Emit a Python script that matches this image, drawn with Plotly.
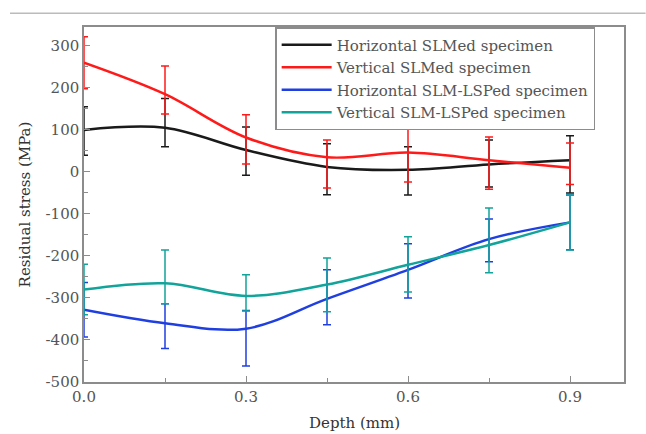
import plotly.graph_objects as go

depth = [0.0, 0.15, 0.3, 0.45, 0.6, 0.75, 0.9]

h_slm = [100, 105, 52, 12, 5, 18, 28]
h_slm_up = [55, 70, 55, 55, 55, 58, 58]
h_slm_dn = [60, 45, 60, 66, 60, 54, 78]

v_slm = [260, 185, 82, 35, 46, 28, 10]
v_slm_up = [62, 67, 54, 41, 69, 55, 59]
v_slm_dn = [62, 47, 63, 73, 70, 69, 40]

h_lsp = [-328, -360, -373, -302, -233, -160, -120]
h_lsp_up = [65, 46, 43, 69, 62, 48, 65]
h_lsp_dn = [65, 60, 89, 62, 67, 54, 65]

v_lsp = [-280, -265, -295, -268, -221, -174, -120]
v_lsp_up = [60, 79, 50, 63, 67, 88, 65]
v_lsp_dn = [60, 49, 36, 65, 65, 66, 66]

y_ticks = [-500, -400, -300, -200, -100, 0, 100, 200, 300]
y_ticklabels = ["-500", "-400", "-300", "-200", "-100", "0", "100", "200", "300"]
x_ticks = [0.0, 0.3, 0.6, 0.9]
x_ticklabels = ["0.0", "0.3", "0.6", "0.9"]

names = ["Horizontal SLMed specimen", "Vertical SLMed specimen",
         "Horizontal SLM-LSPed specimen", "Vertical SLM-LSPed specimen"]
colors = ["#1a1a1a", "#ff1a1a", "#1f3fe0", "#12a39a"]
series = [(h_slm, h_slm_up, h_slm_dn), (v_slm, v_slm_up, v_slm_dn),
          (h_lsp, h_lsp_up, h_lsp_dn), (v_lsp, v_lsp_up, v_lsp_dn)]

FONT = "DejaVu Serif"

fig = go.Figure()
for name, col, (vals, up, dn) in zip(names, colors, series):
    fig.add_trace(go.Scatter(
        x=depth, y=vals, name=name, mode="lines",
        line=dict(color=col, width=2.5, shape="spline", smoothing=1.0),
        error_y=dict(type="data", symmetric=False, array=up, arrayminus=dn,
                     color=col, thickness=1.5, width=4),
    ))

axis_common = dict(
    showgrid=False, zeroline=False, showline=True, linecolor="#8c8c8c",
    linewidth=1.5, mirror=True, ticks="inside", ticklen=6, tickcolor="#8c8c8c",
    tickfont=dict(family=FONT, size=15, color="#555555"),
    automargin=False,
)

fig.update_xaxes(range=[0, 1.0], tickvals=x_ticks, ticktext=x_ticklabels,
                 minor=dict(ticks="inside", dtick=0.15, tick0=0, ticklen=4, tickcolor="#8c8c8c"),
                 **axis_common)
fig.update_yaxes(range=[-500, 345], tickvals=y_ticks, ticktext=y_ticklabels,
                 minor=dict(ticks="inside", dtick=50, tick0=0, ticklen=4, tickcolor="#8c8c8c"),
                 title=dict(text="Residual stress (MPa)", font=dict(family=FONT, size=15, color="#333333"),
                            standoff=11),
                 **axis_common)

fig.add_annotation(text="Depth (mm)", xref="paper", yref="paper", x=0.5, y=-0.115,
                   xanchor="center", yanchor="middle", showarrow=False,
                   font=dict(family=FONT, size=15, color="#333333"))

fig.add_shape(type="line", xref="paper", yref="paper",
              x0=-0.137, x1=1.04, y0=1.039, y1=1.039,
              line=dict(color="#bbbbbb", width=1.5))

fig.update_layout(
    width=646, height=434,
    margin=dict(l=84, r=22, t=27, b=52),
    paper_bgcolor="white", plot_bgcolor="white",
    showlegend=True,
    legend=dict(x=0.354, y=1, xanchor="left", yanchor="top",
                bgcolor="white", bordercolor="#8c8c8c", borderwidth=1.5,
                font=dict(family=FONT, size=15, color="#555555"),
                tracegroupgap=0, itemwidth=50),
)

fig.write_html("out.html")
